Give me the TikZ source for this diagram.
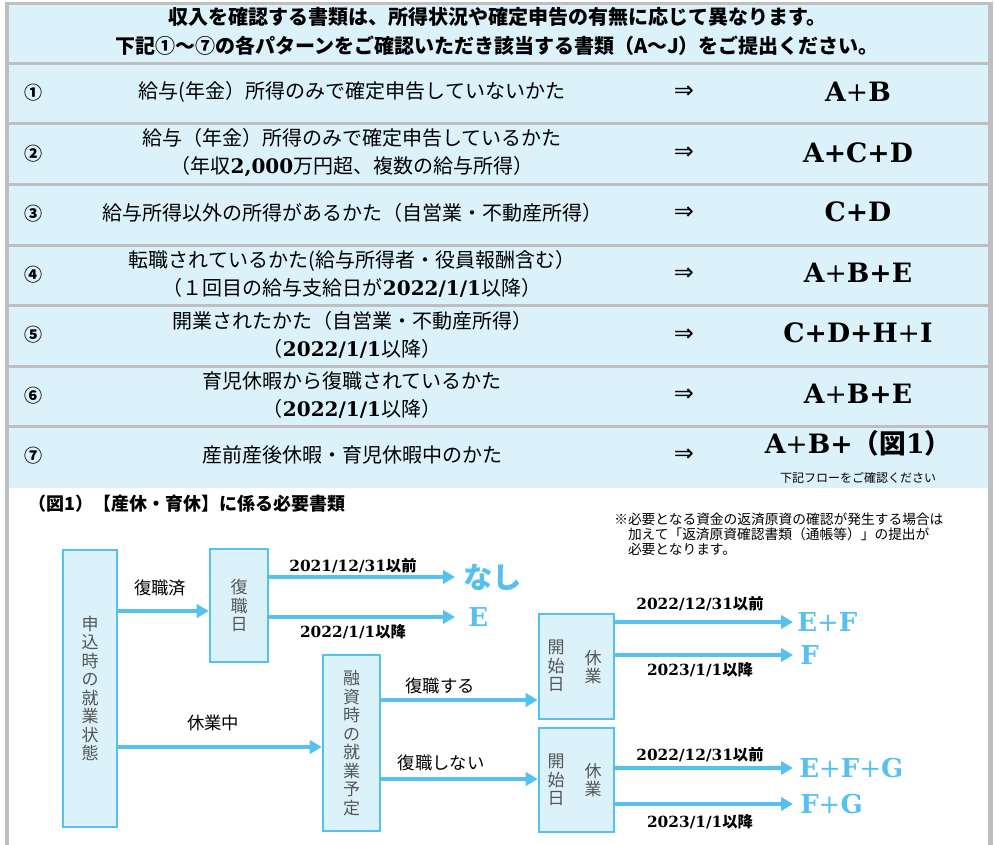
\documentclass[tikz,border=0pt]{standalone}
\usepackage{fontspec}
\usepackage{xcolor}
\usetikzlibrary{arrows.meta}
\setmainfont{Noto Sans CJK JP}
\newfontfamily\jpfont{Noto Sans CJK JP}
\newfontfamily\serfont{DejaVu Serif}
\newfontfamily\symfont{DejaVu Sans}
\definecolor{flowblue}{RGB}{86,193,240}
\definecolor{paleblue}{RGB}{220,242,250}
\definecolor{framegray}{RGB}{191,191,191}
\definecolor{boxgray}{RGB}{85,85,85}
\newcommand{\numb}[1]{{\serfont\bfseries #1}}
\newcommand{\tplus}{{\mdseries +}}
\tikzset{
  headtext/.style={font=\fontsize{15}{20}\selectfont\bfseries, inner sep=0pt},
  rownum/.style={font=\fontsize{13.5}{16}\selectfont\bfseries, inner sep=0pt},
  rowtext/.style={align=center, font=\fontsize{15}{21}\selectfont, inner sep=0pt},
  rowarrow/.style={font=\fontsize{18}{20}\symfont, inner sep=0pt},
  result/.style={font=\fontsize{20}{22}\serfont\bfseries, inner sep=0pt},
  flowbox/.style={draw=flowblue, fill=paleblue, line width=1.9pt, inner sep=0pt, align=center, text=boxgray, font=\fontsize{12.75}{13.9}\selectfont},
  boxtext/.style={align=center, text=boxgray, font=\fontsize{12.75}{13.9}\selectfont, inner sep=0pt},
  flowlabel/.style={font=\fontsize{13}{15}\selectfont, inner sep=0pt},
  datelabel/.style={font=\fontsize{11.5}{14}\selectfont\bfseries, inner sep=0pt},
  flowresult/.style={text=flowblue, font=\fontsize{19.5}{22}\serfont\bfseries, inner sep=0pt, anchor=west},
  flowarrow/.style={draw=flowblue, line width=3pt, -{Triangle[length=9pt,width=10pt]}},
}
\begin{document}
\begin{tikzpicture}[x=0.75pt,y=0.75pt,yscale=-1,xscale=1]
\useasboundingbox (0,0) rectangle (995,845);

% frame and table bands
\fill [framegray] (5,2) rectangle (993,488);
\fill [framegray] (5,488) rectangle (9,845);
\fill [framegray] (988,488) rectangle (993,845);
\fill [paleblue] (9,5) rectangle (988,62);
\foreach \ya/\yb in {65/122.5,125.5/183,186/243.5,246.5/304,307/364.5,367.5/425,428/488}
  \fill [paleblue] (9,\ya) rectangle (988,\yb);

% Text Node
\node (head1) [headtext] at (497,17) {収入を確認する書類は、所得状況や確定申告の有無に応じて異なります。};
% Text Node
\node (head2) [headtext] at (497,46) {下記①～⑦の各パターンをご確認いただき該当する書類（A～J）をご提出ください。};

% row 1
\node (num1) [rownum] at (33,93) {①};
\node (txt1) [rowtext] at (352,92) {給与(年金）所得のみで確定申告していないかた};
\node (arr1) [rowarrow] at (684,92) {⇒};
\node (res1) [result] at (858,92) {A\tplus B};
% row 2
\node (num2) [rownum] at (33,154) {②};
\node (txt2) [rowtext] at (352,153) {給与（年金）所得のみで確定申告しているかた\\（年収\numb{2,000}万円超、複数の給与所得）};
\node (arr2) [rowarrow] at (684,153) {⇒};
\node (res2) [result] at (858,153) {A+C+D};
% row 3
\node (num3) [rownum] at (33,214) {③};
\node (txt3) [rowtext] at (352,213) {給与所得以外の所得があるかた（自営業・不動産所得）};
\node (arr3) [rowarrow] at (684,213) {⇒};
\node (res3) [result] at (858,212) {C+D};
% row 4
\node (num4) [rownum] at (33,275) {④};
\node (txt4) [rowtext] at (352,274) {転職されているかた(給与所得者・役員報酬含む）\\（１回目の給与支給日が\numb{2022/1/1}以降）};
\node (arr4) [rowarrow] at (684,274) {⇒};
\node (res4) [result] at (858,273) {A\tplus B+E};
% row 5
\node (num5) [rownum] at (33,335) {⑤};
\node (txt5) [rowtext] at (352,335) {開業されたかた（自営業・不動産所得）\\（\numb{2022/1/1}以降）};
\node (arr5) [rowarrow] at (684,335) {⇒};
\node (res5) [result] at (858,333) {C+D+H\tplus I};
% row 6
\node (num6) [rownum] at (33,396) {⑥};
\node (txt6) [rowtext] at (352,395) {育児休暇から復職されているかた\\（\numb{2022/1/1}以降）};
\node (arr6) [rowarrow] at (684,395) {⇒};
\node (res6) [result] at (858,394) {A\tplus B+E};
% row 7
\node (num7) [rownum] at (33,456) {⑦};
\node (txt7) [rowtext] at (352,455) {産前産後休暇・育児休暇中のかた};
\node (arr7) [rowarrow] at (684,455) {⇒};
\node (res7) [result] at (858,443) {A\tplus B+{\jpfont\bfseries（図}1{\jpfont\bfseries ）}};
\node (flownote) [font=\fontsize{9}{11}\selectfont, inner sep=0pt] at (858,478) {下記フローをご確認ください};

% Text Node
\node (figtitle) [anchor=west, font=\fontsize{13.5}{16}\selectfont\bfseries, inner sep=0pt] at (28,504) {（図1）【産休・育休】に係る必要書類};
% Text Node
\node (fundnote) [anchor=north west, align=left, font=\fontsize{10.3}{11.25}\selectfont, inner sep=0pt] at (614,513) {※必要となる資金の返済原資の確認が発生する場合は\\\hspace*{1em}加えて「返済原資確認書類（通帳等）」の提出が\\\hspace*{1em}必要となります。};

% boxes
\node (bStatus) [flowbox, minimum width=40.5pt, minimum height=207.75pt] at (90,688.5) {申\\込\\時\\の\\就\\業\\状\\態};
\node (bReturn) [flowbox, minimum width=43.5pt, minimum height=84.75pt] at (239,605.5) {復\\職\\日};
\node (bPlan) [flowbox, minimum width=42.75pt, minimum height=132pt] at (351.5,743) {融\\資\\時\\の\\就\\業\\予\\定};
\node (bStart1) [flowbox, minimum width=56.25pt, minimum height=78.75pt] at (576.5,666.5) {};
\node (bStart2) [flowbox, minimum width=56.25pt, minimum height=78pt] at (576.5,780) {};
\node (s1L) [boxtext] at (556,666) {開\\始\\日};
\node (s1R) [boxtext] at (593,667) {休\\業};
\node (s2L) [boxtext] at (556,780) {開\\始\\日};
\node (s2R) [boxtext] at (593,780) {休\\業};

% results
\node (resNone) [flowresult, font=\fontsize{22}{24}\jpfont\bfseries] at (463,577) {なし};
\node (resE) [flowresult] at (468,617) {E};
\node (resEF) [flowresult] at (797,622) {E\tplus F};
\node (resF) [flowresult] at (800,655) {F};
\node (resEFG) [flowresult] at (799,768) {E\tplus F\tplus G};
\node (resFG) [flowresult] at (800,804) {F\tplus G};

% connectors
\coordinate (yDone) at (0,611);
\coordinate (yLeave) at (0,747);
\coordinate (yBack) at (0,700);
\coordinate (yStay) at (0,779);
\coordinate (tipB) at (455,0);
\coordinate (tipD) at (793,0);
\draw [flowarrow] (bStatus.east |- yDone) -- (bReturn.west |- yDone);
\draw [flowarrow] (bStatus.east |- yLeave) -- (bPlan.west |- yLeave);
\draw [flowarrow] (bPlan.east |- yBack) -- (bStart1.west |- yBack);
\draw [flowarrow] (bPlan.east |- yStay) -- (bStart2.west |- yStay);
\draw [flowarrow] (bReturn.east |- resNone) -- (tipB |- resNone);
\draw [flowarrow] (bReturn.east |- resE) -- (tipB |- resE);
\draw [flowarrow] (bStart1.east |- resEF) -- (tipD |- resEF);
\draw [flowarrow] (bStart1.east |- resF) -- (tipD |- resF);
\draw [flowarrow] (bStart2.east |- resEFG) -- (tipD |- resEFG);
\draw [flowarrow] (bStart2.east |- resFG) -- (tipD |- resFG);

% labels
\node (lblDone) [flowlabel] at (160,588) {復職済};
\node (lblLeave) [flowlabel] at (213,723) {休業中};
\node (lblBack) [flowlabel] at (440,686) {復職する};
\node (lblStay) [flowlabel] at (441,763) {復職しない};
\node (dB1) [datelabel] at (353,566) {\numb{2021/12/31}以前};
\node (dB2) [datelabel] at (353,632) {\numb{2022/1/1}以降};
\node (dD1a) [datelabel] at (700,604) {\numb{2022/12/31}以前};
\node (dD1b) [datelabel] at (700,670) {\numb{2023/1/1}以降};
\node (dD2a) [datelabel] at (700,755) {\numb{2022/12/31}以前};
\node (dD2b) [datelabel] at (700,822) {\numb{2023/1/1}以降};
\end{tikzpicture}
\end{document}
